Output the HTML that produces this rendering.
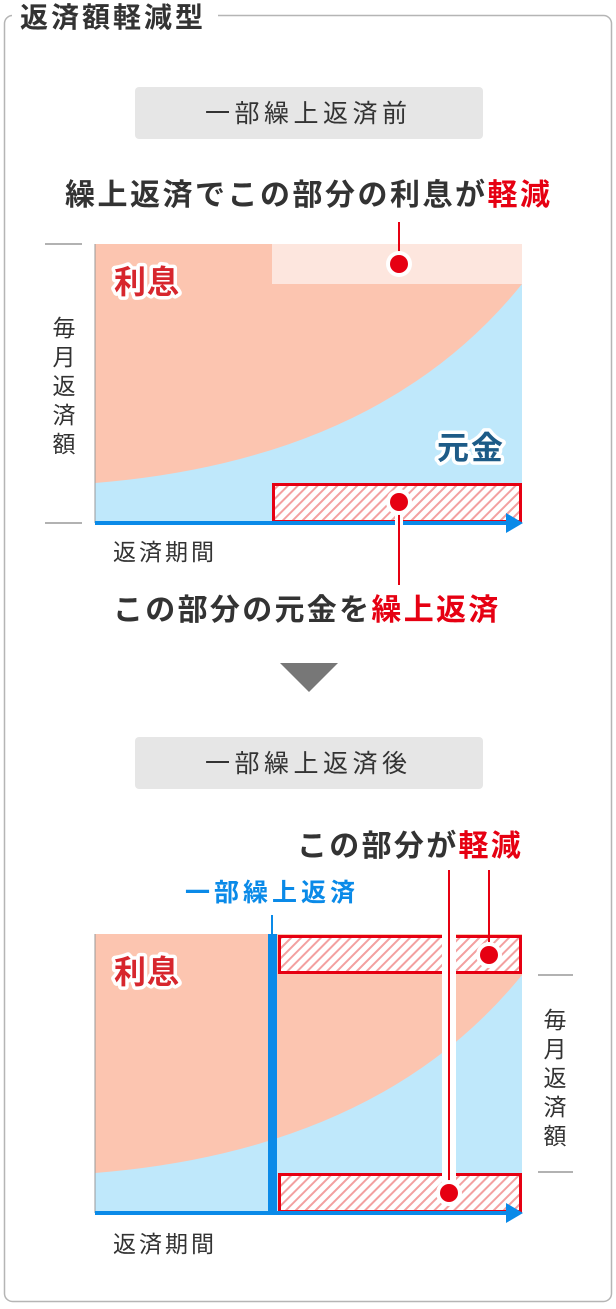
<!DOCTYPE html>
<html><head><meta charset="utf-8"><style>
body{margin:0;background:#fff;width:616px;height:1304px;overflow:hidden}
text{font-family:"Liberation Sans","Noto Sans CJK JP",sans-serif}
</style></head><body>
<svg width="616" height="1304" viewBox="0 0 616 1304" xmlns="http://www.w3.org/2000/svg">
<defs>
<pattern id="h" width="7" height="7" patternUnits="userSpaceOnUse" patternTransform="rotate(45)">
<rect width="7" height="7" fill="#fff"/><rect width="2" height="7" fill="#f3a0a0"/>
</pattern>
</defs>
<rect x="4.5" y="15.5" width="607" height="1286" rx="8" fill="#fff" stroke="#b5b5b5" stroke-width="1.5"/>
<rect x="12" y="2" width="206" height="30" fill="#fff"/>
<text x="20" y="27" font-size="28" font-weight="bold" fill="#333" letter-spacing="3">返済額軽減型</text>

<rect x="135" y="87" width="348" height="52" rx="4" fill="#e6e6e6"/>
<text x="205" y="122" font-size="25" fill="#333" letter-spacing="4.5">一部繰上返済前</text>
<text x="65" y="205" font-size="30" font-weight="bold" fill="#333" letter-spacing="2.5">繰上返済でこの部分の利息が<tspan fill="#e60012">軽減</tspan></text>

<!-- top chart -->
<rect x="95" y="244" width="427" height="279" fill="#bfe8fb"/>
<path d="M95,244 H522 V284 Q380,460 95,483 Z" fill="#fcc5b0"/>
<rect x="272" y="244" width="250" height="40" fill="#fde6de"/>
<line x1="95" y1="244" x2="95" y2="523" stroke="#999" stroke-width="1"/>
<rect x="273.5" y="484.5" width="247" height="37" fill="url(#h)" stroke="#e60012" stroke-width="3"/>
<line x1="45" y1="244" x2="82" y2="244" stroke="#999" stroke-width="1.5"/>
<line x1="45" y1="523" x2="82" y2="523" stroke="#999" stroke-width="1.5"/>
<line x1="95" y1="523" x2="510" y2="523" stroke="#0a8ae8" stroke-width="4"/>
<polygon points="506,513 523,523 506,533" fill="#0a8ae8"/>
<line x1="399" y1="222" x2="399" y2="264" stroke="#e60012" stroke-width="2"/>
<circle cx="399" cy="264" r="13" fill="#fff"/><circle cx="399" cy="264" r="9" fill="#e60012"/>
<line x1="399" y1="502" x2="399" y2="585" stroke="#fff" stroke-width="8"/>
<line x1="399" y1="502" x2="399" y2="585" stroke="#e60012" stroke-width="2"/>
<circle cx="399" cy="502" r="13" fill="#fff"/><circle cx="399" cy="502" r="9" fill="#e60012"/>
<text x="114" y="293" font-size="32" font-weight="bold" fill="#d7262d" stroke="#fff" stroke-width="7" paint-order="stroke" stroke-linejoin="round" letter-spacing="1">利息</text>
<text x="437" y="459" font-size="32" font-weight="bold" fill="#1d5b87" stroke="#fff" stroke-width="7" paint-order="stroke" stroke-linejoin="round" letter-spacing="2">元金</text>
<g font-size="23" fill="#333" text-anchor="middle">
<text x="64" y="336">毎</text><text x="64" y="365">月</text><text x="64" y="394">返</text><text x="64" y="423">済</text><text x="64" y="452">額</text>
</g>
<text x="113" y="560" font-size="23" fill="#333" letter-spacing="3">返済期間</text>
<text x="113" y="620" font-size="30" font-weight="bold" fill="#333" letter-spacing="2.3">この部分の元金を<tspan fill="#e60012">繰上返済</tspan></text>

<polygon points="280,663 338,663 309,692" fill="#777"/>

<rect x="135" y="737" width="348" height="52" rx="4" fill="#e6e6e6"/>
<text x="205" y="772" font-size="25" fill="#333" letter-spacing="4.5">一部繰上返済後</text>
<text x="297" y="856" font-size="30" font-weight="bold" fill="#333" letter-spacing="2.3">この部分が<tspan fill="#e60012">軽減</tspan></text>
<text x="185" y="901" font-size="25" font-weight="bold" fill="#0a8ae8" letter-spacing="4">一部繰上返済</text>

<!-- bottom chart -->
<rect x="95" y="934" width="427" height="279" fill="#bfe8fb"/>
<path d="M95,934 H522 V975 Q380,1150 95,1173 Z" fill="#fcc5b0"/>
<line x1="95" y1="934" x2="95" y2="1213" stroke="#999" stroke-width="1"/>
<rect x="279.5" y="936.5" width="241" height="36" fill="url(#h)" stroke="#e60012" stroke-width="3"/>
<rect x="279.5" y="1174.5" width="241" height="37" fill="url(#h)" stroke="#e60012" stroke-width="3"/>
<line x1="272" y1="915" x2="272" y2="934" stroke="#0a8ae8" stroke-width="2"/>
<rect x="268" y="934" width="9" height="280" fill="#0a8ae8"/>
<line x1="95" y1="1213" x2="510" y2="1213" stroke="#0a8ae8" stroke-width="4"/>
<polygon points="506,1203 523,1213 506,1223" fill="#0a8ae8"/>
<line x1="538" y1="975" x2="573" y2="975" stroke="#999" stroke-width="1.5"/>
<line x1="538" y1="1172" x2="573" y2="1172" stroke="#999" stroke-width="1.5"/>
<line x1="449" y1="870" x2="449" y2="1193" stroke="#fff" stroke-width="14"/>
<line x1="449" y1="870" x2="449" y2="1193" stroke="#e60012" stroke-width="2"/>
<circle cx="449" cy="1193" r="13" fill="#fff"/><circle cx="449" cy="1193" r="9" fill="#e60012"/>
<line x1="489" y1="870" x2="489" y2="955" stroke="#e60012" stroke-width="2"/>
<circle cx="489" cy="955" r="13" fill="#fff"/><circle cx="489" cy="955" r="9" fill="#e60012"/>
<text x="114" y="983" font-size="32" font-weight="bold" fill="#d7262d" stroke="#fff" stroke-width="7" paint-order="stroke" stroke-linejoin="round" letter-spacing="1">利息</text>
<g font-size="23" fill="#333" text-anchor="middle">
<text x="555" y="1028">毎</text><text x="555" y="1057">月</text><text x="555" y="1086">返</text><text x="555" y="1115">済</text><text x="555" y="1144">額</text>
</g>
<text x="113" y="1252" font-size="23" fill="#333" letter-spacing="3">返済期間</text>
</svg>
</body></html>
